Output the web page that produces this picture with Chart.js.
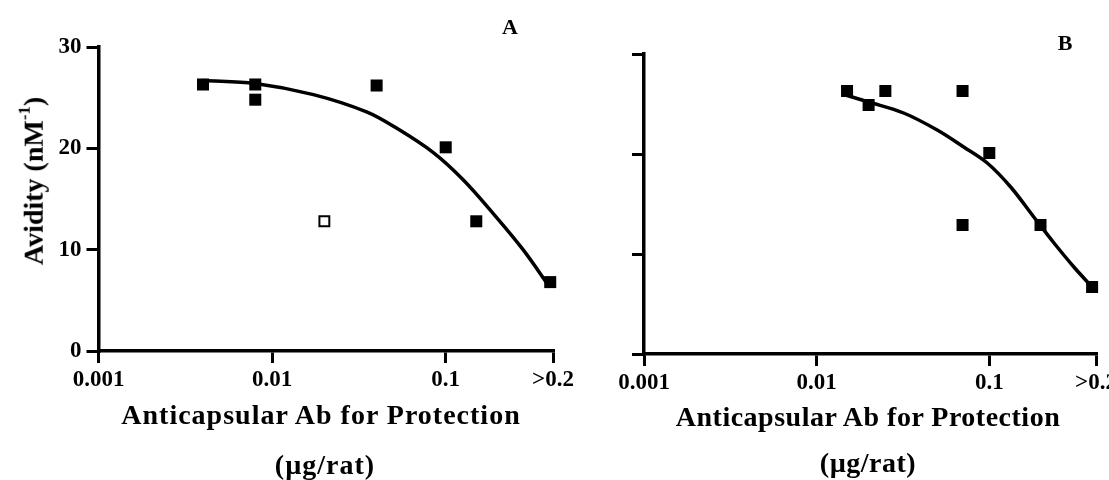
<!DOCTYPE html>
<html lang="en">
<head>
  <meta charset="UTF-8">
  <title>Avidity vs. protective dose</title>
  <script src="https://cdn.jsdelivr.net/npm/chart.js"></script>
  <style>
    html, body { margin: 0; padding: 0; background: #fff; overflow: hidden; }
    body { position: relative; width: 1109px; height: 480px;
           font-family: "Liberation Serif", "Times New Roman", serif; font-weight: bold; color: #000; }
    canvas { position: absolute; top: 0; }
    #chart-a { left: 0; }
    #chart-b { left: 580px; }
    .lbl { position: absolute; white-space: nowrap; line-height: 1; transform: translate(-50%, -50%); }
    .lbl sup { font-size: 0.6em; vertical-align: 0.75em; }
    .ytitle { transform: translate(-50%, -50%) rotate(-90deg); }
    .xtitle { font-size: 28px; letter-spacing: 1px; }
  </style>
</head>
<body>
  <canvas id="chart-a" width="600" height="480"></canvas>
  <canvas id="chart-b" width="560" height="480"></canvas>

  <!-- panel A text -->
  <div class="lbl ytitle" style="left:32px; top:181px; font-size:28px;">Avidity (nM<sup>-1</sup>)</div>
  <div class="lbl xtitle" style="left:321px; top:415px;">Anticapsular Ab for Protection</div>
  <div class="lbl xtitle" style="left:325px; top:465px;">(µg/rat)</div>
  <div class="lbl" style="left:510px; top:27px; font-size:22px;">A</div>

  <!-- panel B text -->
  <div class="lbl xtitle" style="left:868px; top:417px; letter-spacing:0.5px;">Anticapsular Ab for Protection</div>
  <div class="lbl xtitle" style="left:868px; top:463px; letter-spacing:0.5px;">(µg/rat)</div>
  <div class="lbl" style="left:1065px; top:43px; font-size:22px;">B</div>

  <script>
    // axis ticks (">0.2" sits at the right end of the log axis)
    const X_TICKS = [0.001, 0.01, 0.1, 0.415];
    const X_TICK_LABELS = ['0.001', '0.01', '0.1', '>0.2'];
    const Y_TICKS = [0, 10, 20, 30];
    const Y_TICK_LABELS = ['0', '10', '20', '30'];

    // panel A
    const aDose       = [0.004, 0.008, 0.008, 0.04, 0.1, 0.15, 0.4];
    const aAvidity    = [26.3, 26.3, 24.8, 26.2, 20.1, 12.8, 6.8];
    const aOpenDose    = [0.02];
    const aOpenAvidity = [12.8];
    const aFitDose    = [0.004, 0.008, 0.0173, 0.035, 0.052, 0.0845, 0.126, 0.187, 0.279, 0.397];
    const aFitAvidity = [26.7, 26.4, 25.3, 23.6, 22.0, 19.6, 16.9, 13.6, 10.0, 6.3];

    // panel B
    const bDose       = [0.015, 0.02, 0.025, 0.07, 0.07, 0.1, 0.198, 0.394];
    const bAvidity    = [26.3, 24.9, 26.3, 26.3, 12.9, 20.1, 12.9, 6.7];
    const bFitDose    = [0.0147, 0.02, 0.0319, 0.0499, 0.0711, 0.0973, 0.133, 0.181, 0.237, 0.309, 0.394];
    const bFitAvidity = [25.9, 25.2, 24.1, 22.4, 20.7, 19.1, 16.7, 13.7, 11.1, 8.7, 6.7];

    const zip = (xs, ys) => xs.map((x, i) => ({ x, y: ys[i] }));
    const tickFont = { family: '"Liberation Serif", "Times New Roman", serif', size: 23, weight: 'bold' };

    function makePanel(id, cfg) {
      const datasets = [
        { data: zip(cfg.fitX, cfg.fitY), showLine: true, borderColor: '#000', borderWidth: 3.5,
          pointRadius: 0, tension: 0.35, fill: false, clip: false },
        { data: zip(cfg.x, cfg.y), pointStyle: 'rect', pointRadius: 8.5,
          backgroundColor: '#000', borderColor: '#000', borderWidth: 0, clip: false }
      ];
      if (cfg.openX) {
        datasets.push({ data: zip(cfg.openX, cfg.openY), pointStyle: 'rect', pointRadius: 7,
          backgroundColor: '#fff', borderColor: '#000', borderWidth: 2, clip: false });
      }
      return new Chart(document.getElementById(id), {
        type: 'scatter',
        data: { datasets },
        options: {
          responsive: false,
          animation: false,
          layout: { padding: cfg.padding },
          plugins: { legend: { display: false }, tooltip: { enabled: false } },
          scales: {
            x: {
              type: 'logarithmic', min: 0.001, max: 0.415,
              afterBuildTicks: s => { s.ticks = X_TICKS.map(v => ({ value: v })); },
              afterFit: s => { s.height = 50; },
              grid: { drawOnChartArea: false, tickLength: 12, lineWidth: 3, color: '#000' },
              border: { color: '#000', width: 3.5 },
              ticks: { callback: (v, i) => X_TICK_LABELS[i], font: tickFont, color: '#000',
                       padding: 3, maxRotation: 0, autoSkip: false }
            },
            y: {
              min: 0, max: 30,
              afterBuildTicks: s => { s.ticks = Y_TICKS.map(v => ({ value: v })); },
              afterFit: s => { s.width = cfg.yWidth; },
              grid: { drawOnChartArea: false, tickLength: 12, lineWidth: 3, color: '#000' },
              border: { color: '#000', width: 3.5 },
              ticks: { display: cfg.yLabels, callback: (v, i) => Y_TICK_LABELS[i],
                       font: tickFont, color: '#000', padding: 5 }
            }
          }
        }
      });
    }

    makePanel('chart-a', {
      x: aDose, y: aAvidity, openX: aOpenDose, openY: aOpenAvidity,
      fitX: aFitDose, fitY: aFitAvidity,
      yLabels: true, yWidth: 98.5,
      padding: { left: 0, top: 47, right: 47, bottom: 79 }
    });

    makePanel('chart-b', {
      x: bDose, y: bAvidity, fitX: bFitDose, fitY: bFitAvidity,
      yLabels: false, yWidth: 64,
      padding: { left: 0, top: 54, right: 44, bottom: 76 }
    });
  </script>
</body>
</html>
